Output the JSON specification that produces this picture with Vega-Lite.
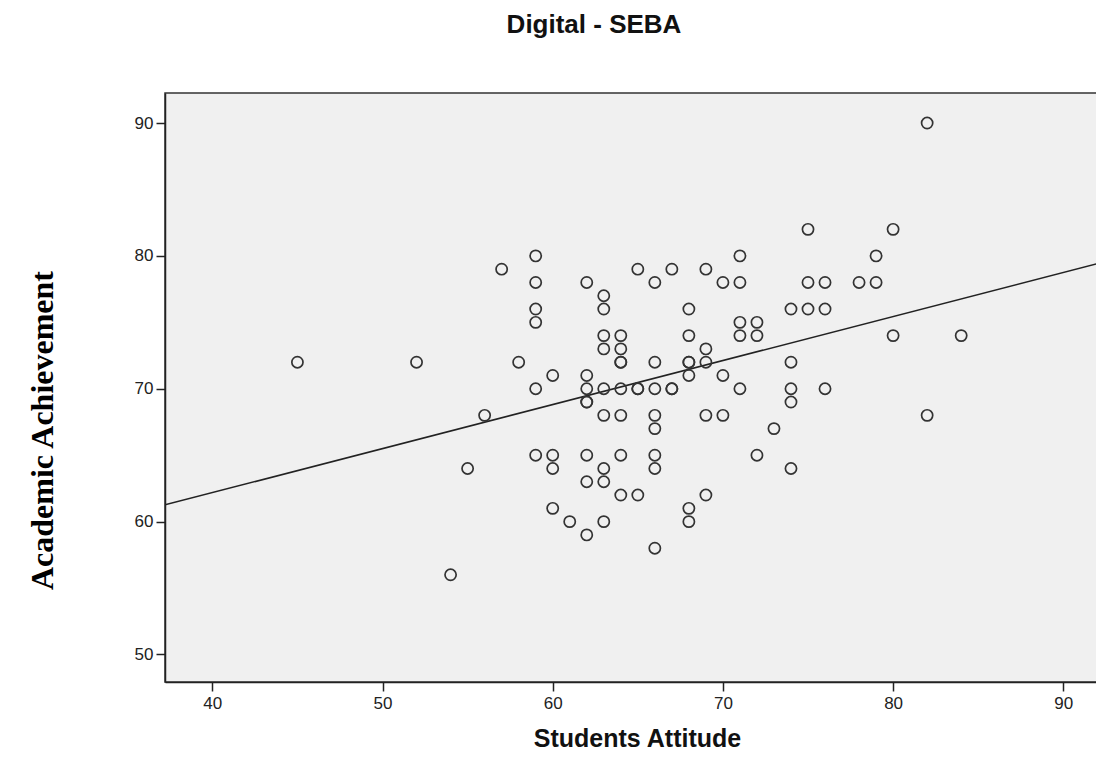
{
  "$schema": "https://vega.github.io/schema/vega-lite/v6.json",
  "autosize": {"type": "none"},
  "padding": {"left": 165, "top": 93, "right": 0, "bottom": 76},
  "width": 932,
  "height": 589,
  "background": "white",
  "config": {
    "view": {"fill": "#f0f0f0", "stroke": "#333333", "strokeWidth": 1.5},
    "axis": {
      "grid": false,
      "labelFont": "Liberation Sans",
      "labelFontSize": 17,
      "labelColor": "#222222",
      "domainColor": "#222222",
      "domainWidth": 1.5,
      "tickColor": "#222222",
      "tickWidth": 1.5,
      "tickSize": 9,
      "titleFont": "Liberation Sans",
      "titleColor": "#111111"
    }
  },
  "title": {
    "text": "Digital - SEBA",
    "font": "Liberation Sans",
    "fontSize": 26,
    "fontWeight": "bold",
    "color": "#111111",
    "anchor": "middle",
    "dx": -37,
    "baseline": "alphabetic",
    "offset": 34
  },
  "datasets": {
    "points": [
      {"attitude": 45, "achievement": 72},
      {"attitude": 52, "achievement": 72},
      {"attitude": 54, "achievement": 56},
      {"attitude": 55, "achievement": 64},
      {"attitude": 56, "achievement": 68},
      {"attitude": 57, "achievement": 79},
      {"attitude": 58, "achievement": 72},
      {"attitude": 59, "achievement": 80},
      {"attitude": 59, "achievement": 78},
      {"attitude": 59, "achievement": 76},
      {"attitude": 59, "achievement": 75},
      {"attitude": 59, "achievement": 70},
      {"attitude": 59, "achievement": 65},
      {"attitude": 60, "achievement": 71},
      {"attitude": 60, "achievement": 65},
      {"attitude": 60, "achievement": 64},
      {"attitude": 60, "achievement": 61},
      {"attitude": 61, "achievement": 60},
      {"attitude": 62, "achievement": 78},
      {"attitude": 62, "achievement": 71},
      {"attitude": 62, "achievement": 70},
      {"attitude": 62, "achievement": 69},
      {"attitude": 62, "achievement": 69},
      {"attitude": 62, "achievement": 65},
      {"attitude": 62, "achievement": 63},
      {"attitude": 62, "achievement": 59},
      {"attitude": 63, "achievement": 77},
      {"attitude": 63, "achievement": 76},
      {"attitude": 63, "achievement": 74},
      {"attitude": 63, "achievement": 73},
      {"attitude": 63, "achievement": 70},
      {"attitude": 63, "achievement": 68},
      {"attitude": 63, "achievement": 64},
      {"attitude": 63, "achievement": 63},
      {"attitude": 63, "achievement": 60},
      {"attitude": 64, "achievement": 74},
      {"attitude": 64, "achievement": 73},
      {"attitude": 64, "achievement": 72},
      {"attitude": 64, "achievement": 72},
      {"attitude": 64, "achievement": 70},
      {"attitude": 64, "achievement": 68},
      {"attitude": 64, "achievement": 65},
      {"attitude": 64, "achievement": 62},
      {"attitude": 65, "achievement": 79},
      {"attitude": 65, "achievement": 70},
      {"attitude": 65, "achievement": 70},
      {"attitude": 65, "achievement": 62},
      {"attitude": 66, "achievement": 78},
      {"attitude": 66, "achievement": 72},
      {"attitude": 66, "achievement": 70},
      {"attitude": 66, "achievement": 68},
      {"attitude": 66, "achievement": 67},
      {"attitude": 66, "achievement": 65},
      {"attitude": 66, "achievement": 64},
      {"attitude": 66, "achievement": 58},
      {"attitude": 67, "achievement": 79},
      {"attitude": 67, "achievement": 70},
      {"attitude": 67, "achievement": 70},
      {"attitude": 68, "achievement": 76},
      {"attitude": 68, "achievement": 74},
      {"attitude": 68, "achievement": 72},
      {"attitude": 68, "achievement": 72},
      {"attitude": 68, "achievement": 71},
      {"attitude": 68, "achievement": 61},
      {"attitude": 68, "achievement": 60},
      {"attitude": 69, "achievement": 79},
      {"attitude": 69, "achievement": 73},
      {"attitude": 69, "achievement": 72},
      {"attitude": 69, "achievement": 68},
      {"attitude": 69, "achievement": 62},
      {"attitude": 70, "achievement": 78},
      {"attitude": 70, "achievement": 71},
      {"attitude": 70, "achievement": 68},
      {"attitude": 71, "achievement": 80},
      {"attitude": 71, "achievement": 78},
      {"attitude": 71, "achievement": 75},
      {"attitude": 71, "achievement": 74},
      {"attitude": 71, "achievement": 70},
      {"attitude": 72, "achievement": 75},
      {"attitude": 72, "achievement": 74},
      {"attitude": 72, "achievement": 65},
      {"attitude": 73, "achievement": 67},
      {"attitude": 74, "achievement": 76},
      {"attitude": 74, "achievement": 72},
      {"attitude": 74, "achievement": 70},
      {"attitude": 74, "achievement": 69},
      {"attitude": 74, "achievement": 64},
      {"attitude": 75, "achievement": 82},
      {"attitude": 75, "achievement": 78},
      {"attitude": 75, "achievement": 76},
      {"attitude": 76, "achievement": 78},
      {"attitude": 76, "achievement": 76},
      {"attitude": 76, "achievement": 70},
      {"attitude": 78, "achievement": 78},
      {"attitude": 79, "achievement": 80},
      {"attitude": 79, "achievement": 78},
      {"attitude": 80, "achievement": 82},
      {"attitude": 80, "achievement": 74},
      {"attitude": 82, "achievement": 90},
      {"attitude": 82, "achievement": 68},
      {"attitude": 84, "achievement": 74}
    ],
    "fit": [
      {"attitude": 37.22, "achievement": 61.26},
      {"attitude": 91.98, "achievement": 79.41}
    ]
  },
  "encoding": {
    "x": {
      "field": "attitude",
      "type": "quantitative",
      "scale": {"domain": [37.22, 91.98], "nice": false, "zero": false},
      "axis": {
        "values": [40, 50, 60, 70, 80, 90],
        "title": "Students Attitude",
        "titleFontSize": 25,
        "titleFontWeight": "bold",
        "titleBaseline": "alphabetic",
        "titleAlign": "center",
        "titleX": 472,
        "titleY": 64,
        "labelPadding": 4
      }
    },
    "y": {
      "field": "achievement",
      "type": "quantitative",
      "scale": {"domain": [47.93, 92.26], "nice": false, "zero": false},
      "axis": {
        "values": [50, 60, 70, 80, 90],
        "title": "Academic Achievement",
        "titleFont": "Liberation Serif",
        "titleFontSize": 32,
        "titleFontWeight": "bold",
        "titleColor": "#000000",
        "titleAngle": -90,
        "titleAlign": "center",
        "titleBaseline": "middle",
        "titleX": -123,
        "titleY": 337,
        "labelPadding": 3
      }
    }
  },
  "layer": [
    {
      "data": {"name": "fit"},
      "mark": {"type": "line", "color": "#222222", "strokeWidth": 1.5, "clip": true}
    },
    {
      "data": {"name": "points"},
      "mark": {"type": "point", "shape": "circle", "filled": false, "stroke": "#333333", "strokeWidth": 1.7, "size": 125, "opacity": 1}
    }
  ]
}
